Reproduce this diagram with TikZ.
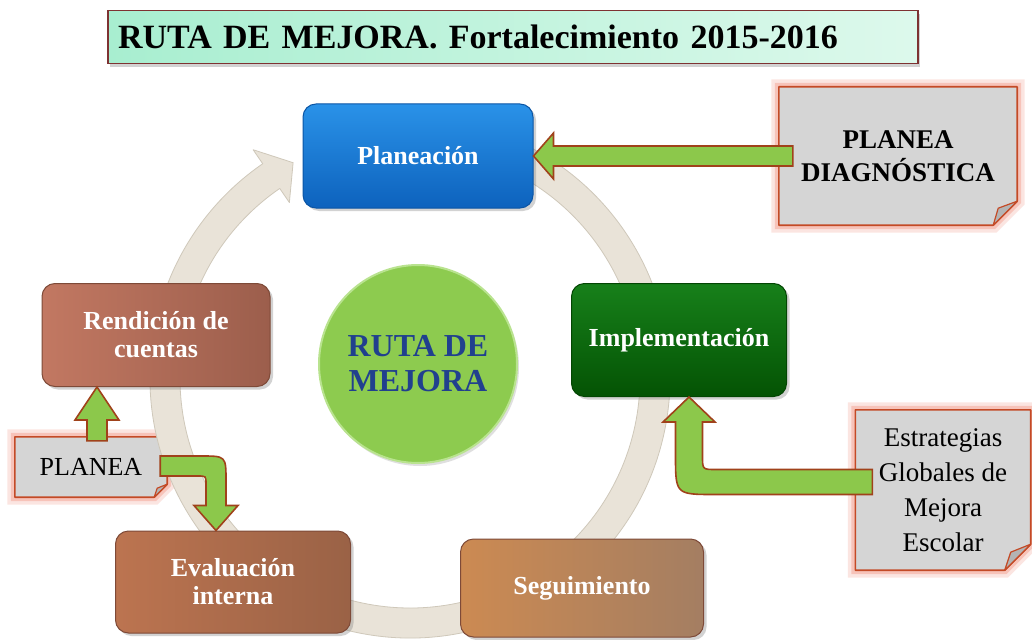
\documentclass[tikz,border=0pt]{standalone}
\usepackage{fontspec}
\setmainfont{Liberation Serif}
\usetikzlibrary{calc,shadows,backgrounds}
\definecolor{bluetop}{HTML}{2A92E8}
\definecolor{bluebot}{HTML}{0D62BD}
\definecolor{blueline}{HTML}{0B55A5}
\definecolor{grtop}{HTML}{17801A}
\definecolor{grbot}{HTML}{045304}
\definecolor{grline}{HTML}{034603}
\definecolor{brA}{HTML}{C27862}
\definecolor{brB}{HTML}{9C5E4C}
\definecolor{evA}{HTML}{BC7450}
\definecolor{evB}{HTML}{9A6246}
\definecolor{seA}{HTML}{CC8A52}
\definecolor{seB}{HTML}{A47E62}
\definecolor{brline}{HTML}{7E4A38}
\definecolor{ringc}{HTML}{E9E3D8}
\definecolor{ringl}{HTML}{CFC8BA}
\definecolor{arrowf}{HTML}{8CC84B}
\definecolor{arrowl}{HTML}{A0421B}
\definecolor{notef}{HTML}{D5D5D5}
\definecolor{notel}{HTML}{C44A26}
\definecolor{glowc}{HTML}{F39A8A}
\definecolor{flapc}{HTML}{B4B4B4}
\definecolor{titleA}{HTML}{A8EED0}
\definecolor{titleB}{HTML}{DDF9EC}
\definecolor{titlel}{HTML}{7E3232}
\definecolor{circf}{HTML}{8DCB4F}
\definecolor{circl}{HTML}{B9E38F}
\definecolor{circt}{HTML}{21408E}
\tikzset{
  stage/.style={rounded corners=13pt, line width=1pt, text=white,
    font=\bfseries\fontsize{26}{28}\selectfont, align=center, inner sep=4pt,
    drop shadow={shadow xshift=3pt, shadow yshift=-3pt, opacity=0.35}},
  garrow/.style={fill=arrowf, draw=arrowl, line width=1.6pt, line join=miter},
  noteshape/.style={fill=notef, draw=notel, line width=1.6pt, line join=round,
    preaction={draw=glowc, line width=15pt, opacity=0.25},
    preaction={draw=glowc, line width=8pt, opacity=0.45}},
  flap/.style={fill=flapc, draw=notel, line width=1.2pt, line join=round},
  notetext/.style={align=center, inner sep=0pt},
}
\begin{document}
\begin{tikzpicture}[x=1pt,y=-1pt]
\useasboundingbox (0,0) rectangle (1032,639);
\begin{scope}[on background layer]
  \fill[white] (0,0) rectangle (1032,639);
\end{scope}

% cycle ring
\coordinate (C) at (410,378);
\fill[ringc, draw=ringl, line width=0.8pt, line join=round]
  ($(C)+(-78:260)$) arc[start angle=-78, end angle=235.5, radius=260]
  -- ($(C)+(235.5:277)$) -- ($(C)+(241.5:245)$) -- ($(C)+(235.5:213)$)
  -- ($(C)+(235.5:230)$) arc[start angle=235.5, end angle=-78, radius=230] -- cycle;

% title
\node[draw=titlel, line width=1.5pt, left color=titleA, right color=titleB,
      minimum width=810, minimum height=53, text width=790pt, align=left,
      inner sep=10pt, font=\bfseries\fontsize{34}{40}\selectfont,
      drop shadow={shadow xshift=2pt, shadow yshift=-4pt, opacity=0.35}]
  (tb) at (513,37) {RUTA DE MEJORA. Fortalecimiento 2015-2016};

% stages
\node[stage, draw=blueline, top color=bluetop, bottom color=bluebot,
      minimum width=230, minimum height=104] (pl) at (418,156) {Planeación};
\node[stage, draw=grline, top color=grtop, bottom color=grbot,
      minimum width=215, minimum height=113] (im) at (679,340) {Implementación};
\node[stage, draw=brline, left color=brA, right color=brB,
      minimum width=228, minimum height=103] (re) at (156,335) {Rendición de\\cuentas};
\node[stage, draw=brline, left color=evA, right color=evB,
      minimum width=235, minimum height=102] (ev) at (233,582) {Evaluación\\interna};
\node[stage, draw=brline, left color=seA, right color=seB,
      minimum width=243, minimum height=98] (se) at (582,588) {Seguimiento};

% centre
\node[circle, fill=circf, draw=circl, line width=2pt, minimum size=198,
      text=circt, font=\bfseries\fontsize{32}{35}\selectfont, align=center,
      drop shadow={shadow xshift=2pt, shadow yshift=-3pt, opacity=0.25}]
  (rm) at (418,364) {RUTA DE\\MEJORA};

% notes (text)
\node[notetext, minimum width=238, minimum height=138,
      font=\bfseries\fontsize{27}{33}\selectfont] (pd) at (898,156) {PLANEA\\DIAGNÓSTICA};
\node[notetext, minimum width=175, minimum height=160,
      font=\fontsize{27}{35}\selectfont] (es) at (943,490) {Estrategias\\Globales de\\Mejora\\Escolar};
\node[notetext, minimum width=152, minimum height=60,
      font=\fontsize{26}{30}\selectfont] (pn) at (91,467) {PLANEA};

% note outlines
\begin{scope}[on background layer]
  \draw[noteshape] (pd.north west) -- (pd.north east) -- ($(pd.south east)+(0,-24)$)
     -- ($(pd.south east)+(-24,0)$) -- (pd.south west) -- cycle;
  \draw[flap] ($(pd.south east)+(0,-24)$) -- ($(pd.south east)+(-24,0)$) -- ($(pd.south east)+(-19,-17)$) -- cycle;
  \draw[noteshape] (es.north west) -- (es.north east) -- ($(es.south east)+(0,-26)$)
     -- ($(es.south east)+(-26,0)$) -- (es.south west) -- cycle;
  \draw[flap] ($(es.south east)+(0,-26)$) -- ($(es.south east)+(-26,0)$) -- ($(es.south east)+(-20,-18)$) -- cycle;
  \draw[noteshape] (pn.north west) -- (pn.north east) -- ($(pn.south east)+(0,-13)$)
     -- ($(pn.south east)+(-13,0)$) -- (pn.south west) -- cycle;
  \draw[flap] ($(pn.south east)+(0,-13)$) -- ($(pn.south east)+(-13,0)$) -- ($(pn.south east)+(-10,-9)$) -- cycle;
\end{scope}

% arrow: PLANEA DIAGNOSTICA -> Planeacion
\draw[garrow] (pl.east) -- ++(20,-23) -- ++(0,13) -- ($(pd.west)+(14,-10)$)
  -- ++(0,20) -- ($(pl.east)+(20,10)$) -- ++(0,13) -- cycle;

% arrow: Estrategias -> Implementacion
\coordinate (T2) at ($(im.south)+(10,0)$);
\coordinate (E2) at ($(es.west)+(17,-8)$);
\coordinate (K2) at (T2 |- E2);
\draw[garrow] (T2) -- ($(T2)+(26,25)$) -- ($(T2)+(13.5,25)$) -- ($(K2)+(13.5,-26)$)
  .. controls ($(K2)+(13.5,-12.5)$) .. ($(K2)+(27,-12.5)$) -- ($(E2)+(0,-12.5)$)
  -- ($(E2)+(0,12.5)$) -- ($(K2)+(26,12.5)$)
  .. controls ($(K2)+(-13.5,12.5)$) .. ($(K2)+(-13.5,-27)$)
  -- ($(T2)+(-13.5,25)$) -- ($(T2)+(-26,25)$) -- cycle;

% arrow: PLANEA -> Rendicion de cuentas
\coordinate (T3a) at ($(pn.north)+(6,4)$);
\coordinate (T3) at (T3a |- re.south);
\draw[garrow] (T3) -- ($(T3)+(22,33)$) -- ($(T3)+(10,33)$) -- ($(T3a)+(10,0)$)
  -- ($(T3a)+(-10,0)$) -- ($(T3)+(-10,33)$) -- ($(T3)+(-22,33)$) -- cycle;

% arrow: PLANEA -> Evaluacion interna
\coordinate (T4) at ($(ev.north)+(-17,0)$);
\coordinate (S4) at ($(pn.east)+(-7,-1)$);
\coordinate (K4) at (T4 |- S4);
\draw[garrow] ($(S4)+(0,-10)$) -- ($(K4)+(-15,-10)$)
  .. controls ($(K4)+(10,-10)$) .. ($(K4)+(10,15)$) -- ($(T4)+(10,-25)$)
  -- ($(T4)+(22,-25)$) -- (T4) -- ($(T4)+(-22,-25)$) -- ($(T4)+(-10,-25)$)
  -- ($(K4)+(-10,18)$) .. controls ($(K4)+(-10,10)$) .. ($(K4)+(-18,10)$)
  -- ($(S4)+(0,10)$) -- cycle;
\end{tikzpicture}
\end{document}
